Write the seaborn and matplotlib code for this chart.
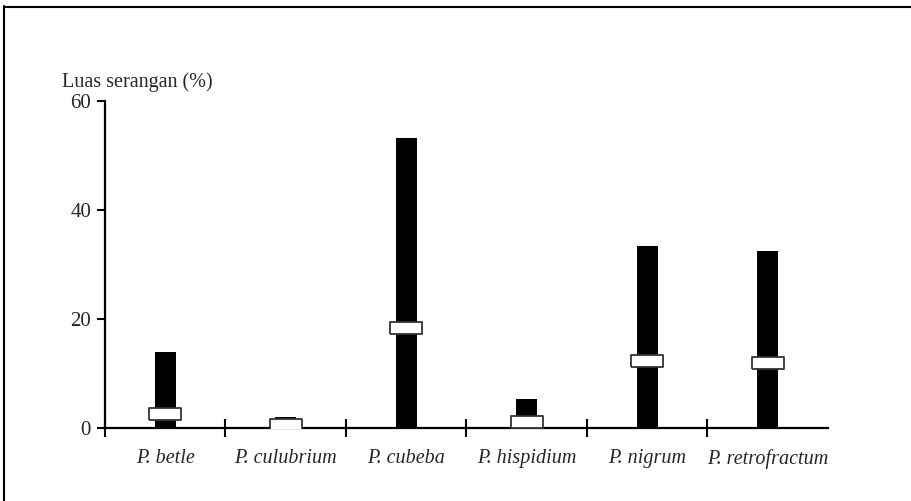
import numpy as np
import matplotlib
matplotlib.use("Agg")
import matplotlib.pyplot as plt
from matplotlib.lines import Line2D
import seaborn as sns

sns.set_theme(style="white")
plt.rcParams["font.family"] = ["Liberation Serif", "DejaVu Serif"]

# =========================
# DATA
# =========================
species = ["P. betle", "P. culubrium", "P. cubeba", "P. hispidium", "P. nigrum", "P. retrofractum"]
max_vals = [13.9, 2.1, 53.2, 5.3, 33.4, 32.5]   # luas serangan maksimum (%)
mean_vals = [2.6, 0.6, 18.4, 1.1, 12.3, 12.0]   # rata-rata (%)
y_ticks = [0, 20, 40, 60]

# =========================
# FIGURE
# =========================
fig = plt.figure(figsize=(9.12, 5.01), dpi=100)
ax = fig.add_axes([105 / 912, 1 - 428 / 501, 723 / 912, 327 / 501])

pos = np.arange(len(species))

sns.barplot(x=pos, y=max_vals, color="black", saturation=1, width=0.175,
            linewidth=0, native_scale=True, ax=ax, zorder=2)

# white rectangle marker for the mean
box = [(-1.33, -0.5), (1.33, -0.5), (1.33, 0.5), (-1.33, 0.5), (-1.33, -0.5)]
sns.scatterplot(x=pos, y=mean_vals, marker=box, s=530, color="white",
                edgecolor="#333333", linewidth=1.3, ax=ax, zorder=3, legend=False)

# axes styling
ax.set_xlim(-0.5, len(species) - 0.5)
ax.set_ylim(0, 60)
for s in ["top", "right"]:
    ax.spines[s].set_visible(False)
for s in ["left", "bottom"]:
    ax.spines[s].set_linewidth(1.6)
    ax.spines[s].set_color("black")

ax.set_yticks(y_ticks)
ax.set_yticklabels([str(v) for v in y_ticks], fontsize=15)
ax.tick_params(axis="y", direction="out", length=6, width=1.5, color="black", pad=4, left=True)

ax.set_xticks(pos)
ax.set_xticklabels(species, fontsize=14.5, style="italic")
ax.tick_params(axis="x", which="major", length=0, pad=15)
ax.set_xticks(np.arange(len(species)) - 0.5, minor=True)
ax.tick_params(axis="x", which="minor", direction="inout", length=13, width=1.5,
               color="black", bottom=True)
ax.set_xlabel("")
ax.set_ylabel("")
ax.grid(False)

fig.text(62 / 912, 1 - 82 / 501, "Luas serangan (%)", fontsize=14.5, va="center", ha="left")

# frame around the figure (top and left visible)
fig.add_artist(Line2D([4 / 912, 1], [1 - 6.5 / 501] * 2, color="black", lw=1.5,
                      transform=fig.transFigure))
fig.add_artist(Line2D([4.5 / 912] * 2, [0, 1 - 6 / 501], color="black", lw=1.5,
                      transform=fig.transFigure))

fig.savefig("out.png", dpi=100)
